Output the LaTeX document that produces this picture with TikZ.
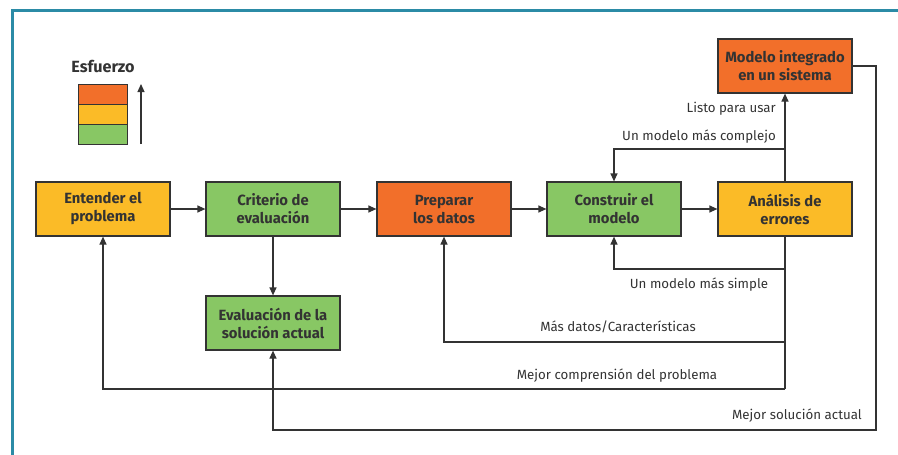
\documentclass[tikz,border=0pt]{standalone}
\usepackage{fontspec}
\setmainfont{Fira Sans}
\usetikzlibrary{positioning,arrows.meta}
\definecolor{naranja}{HTML}{F26F2A}
\definecolor{amarillo}{HTML}{FBBB27}
\definecolor{verde}{HTML}{88C764}
\definecolor{marco}{HTML}{2B8BA6}
\definecolor{gris}{HTML}{333333}

\begin{document}
\begin{tikzpicture}[x=1pt,y=-1pt,
  caja/.style={draw=gris,line width=1.2pt,minimum width=134pt,minimum height=54pt,align=center,text=gris,
    font=\bfseries\fontsize{14.8}{18}\selectfont},
  etiq/.style={text=gris,inner sep=0pt,font=\fontsize{13.3}{15}\selectfont},
  conec/.style={draw=gris,line width=1.2pt},
  flecha/.style={conec,-{Triangle[length=8pt,width=7pt]}}]
  \useasboundingbox (0,0) rectangle (898,455);
  \draw[marco,line width=2.6pt] (12.5,455) -- (12.5,10.5) -- (898,10.5);

  \node[text=gris,font=\bfseries\fontsize{16.2}{19}\selectfont] (esf) at (103,66) {Esfuerzo};
  \draw[gris,line width=1pt,fill=naranja] (78,84) rectangle (127,104);
  \draw[gris,line width=1pt,fill=amarillo] (78,104) rectangle (127,124);
  \draw[gris,line width=1pt,fill=verde] (78,124) rectangle (127,144);
  \coordinate (fb) at (141,144);
  \coordinate (ft) at (141,84);
  \draw[flecha] (fb) -- (ft);

  \node[caja,fill=amarillo] (ent) at (103,209) {Entender el\\problema};
  \node[caja,fill=verde] (cri) at (273,209) {Criterio de\\evaluación};
  \node[caja,fill=naranja] (pre) at (444,209) {Preparar\\los datos};
  \node[caja,fill=verde] (cons) at (614,209) {Construir el\\modelo};
  \node[caja,fill=amarillo] (ana) at (785,209) {Análisis de\\errores};
  \node[caja,fill=naranja] (mod) at (785,66) {Modelo integrado\\en un sistema};
  \node[caja,fill=verde] (eva) at (273,323) {Evaluación de la\\solución actual};

  \draw[flecha] (ent) -- (cri);
  \draw[flecha] (cri) -- (pre);
  \draw[flecha] (pre) -- (cons);
  \draw[flecha] (cons) -- (ana);
  \draw[flecha] (cri) -- (eva);
  \draw[flecha] (ana) -- (mod);

  \coordinate (comp) at (785,149);
  \coordinate (simp) at (785,269);
  \coordinate (dat) at (785,342);
  \coordinate (prob) at (785,389);
  \coordinate (der) at (876,430);
  \draw[conec] (ana) -- (prob);
  \draw[flecha] (comp) -| (cons);
  \draw[flecha] (simp) -| (cons);
  \draw[flecha] (dat) -| (pre);
  \draw[flecha] (prob) -| (ent);
  \draw[flecha] (mod) -| (der) -| (eva);

  \node[etiq,anchor=east] (lst) at (776,109) {Listo para usar};
  \node[etiq,anchor=east] (lcomp) at (776,137) {Un modelo más complejo};
  \node[etiq] (lsimp) at (699,285) {Un modelo más simple};
  \node[etiq] (ldat) at (618,327) {Más datos/Características};
  \node[etiq] (lprob) at (617,376) {Mejor comprensión del problema};
  \node[etiq,anchor=east] (lsol) at (862,416) {Mejor solución actual};
\end{tikzpicture}
\end{document}
